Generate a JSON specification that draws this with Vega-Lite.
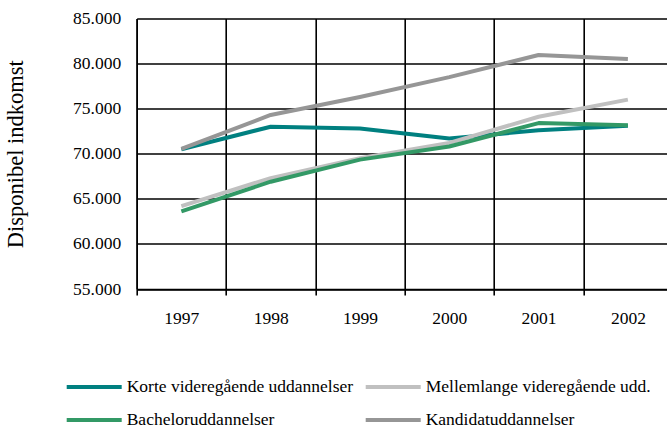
{
  "$schema": "https://vega.github.io/schema/vega-lite/v6.json",
  "autosize": {"type": "none"},
  "padding": {"left": 136.7, "top": 18.5, "right": 0, "bottom": 139},
  "width": 530.3,
  "height": 270.5,
  "background": "white",
  "config": {
    "font": "Liberation Serif",
    "view": {"stroke": null}
  },
  "data": {
    "values": [
      {"year": 1997, "serie": "Korte videregående uddannelser", "value": 70500},
      {"year": 1998, "serie": "Korte videregående uddannelser", "value": 73000},
      {"year": 1999, "serie": "Korte videregående uddannelser", "value": 72800},
      {"year": 2000, "serie": "Korte videregående uddannelser", "value": 71700},
      {"year": 2001, "serie": "Korte videregående uddannelser", "value": 72600},
      {"year": 2002, "serie": "Korte videregående uddannelser", "value": 73100},
      {"year": 1997, "serie": "Mellemlange videregående udd.", "value": 64200},
      {"year": 1998, "serie": "Mellemlange videregående udd.", "value": 67300},
      {"year": 1999, "serie": "Mellemlange videregående udd.", "value": 69500},
      {"year": 2000, "serie": "Mellemlange videregående udd.", "value": 71200},
      {"year": 2001, "serie": "Mellemlange videregående udd.", "value": 74100},
      {"year": 2002, "serie": "Mellemlange videregående udd.", "value": 76000},
      {"year": 1997, "serie": "Bacheloruddannelser", "value": 63600},
      {"year": 1998, "serie": "Bacheloruddannelser", "value": 66900},
      {"year": 1999, "serie": "Bacheloruddannelser", "value": 69350},
      {"year": 2000, "serie": "Bacheloruddannelser", "value": 70800},
      {"year": 2001, "serie": "Bacheloruddannelser", "value": 73400},
      {"year": 2002, "serie": "Bacheloruddannelser", "value": 73150},
      {"year": 1997, "serie": "Kandidatuddannelser", "value": 70550},
      {"year": 1998, "serie": "Kandidatuddannelser", "value": 74300},
      {"year": 1999, "serie": "Kandidatuddannelser", "value": 76300},
      {"year": 2000, "serie": "Kandidatuddannelser", "value": 78500},
      {"year": 2001, "serie": "Kandidatuddannelser", "value": 80950},
      {"year": 2002, "serie": "Kandidatuddannelser", "value": 80500}
    ]
  },
  "mark": {"type": "line", "strokeWidth": 4, "strokeCap": "butt", "strokeJoin": "round"},
  "encoding": {
    "x": {
      "field": "year",
      "type": "quantitative",
      "scale": {"domain": [1996.5, 2002.438], "nice": false, "zero": false},
      "axis": {
        "title": null,
        "values": [1996.5, 1997, 1997.5, 1998, 1998.5, 1999, 1999.5, 2000, 2000.5, 2001, 2001.5, 2002],
        "labelExpr": "datum.value % 1 === 0 ? format(datum.value, 'd') : ''",
        "labelOverlap": false,
        "labelFlush": false,
        "labelFontSize": 17.5,
        "labelColor": "black",
        "labelPadding": 14,
        "domainColor": "black",
        "domainWidth": 1.6,
        "grid": true,
        "gridColor": "black",
        "gridWidth": 1.6,
        "gridOpacity": {"condition": {"test": "datum.value % 1 === 0", "value": 0}, "value": 1},
        "ticks": true,
        "tickSize": 6,
        "tickColor": "black",
        "tickWidth": 1.6,
        "tickOpacity": {"condition": {"test": "datum.value % 1 === 0", "value": 0}, "value": 1}
      }
    },
    "y": {
      "field": "value",
      "type": "quantitative",
      "scale": {"domain": [55000, 85000], "nice": false, "zero": false},
      "axis": {
        "title": "Disponibel indkomst",
        "titleFontSize": 22.5,
        "titleFontWeight": "normal",
        "titleColor": "black",
        "titlePadding": 45,
        "values": [55000, 60000, 65000, 70000, 75000, 80000, 85000],
        "labelExpr": "replace(format(datum.value, ','), ',', '.')",
        "labelFontSize": 17.5,
        "labelColor": "black",
        "labelPadding": 16,
        "ticks": false,
        "tickSize": 0,
        "domainColor": "black",
        "domainWidth": 1.6,
        "grid": true,
        "gridColor": "black",
        "gridWidth": 1.6
      }
    },
    "color": {
      "field": "serie",
      "type": "nominal",
      "sort": null,
      "scale": {
        "domain": ["Korte videregående uddannelser", "Mellemlange videregående udd.", "Bacheloruddannelser", "Kandidatuddannelser"],
        "range": ["#008080", "#c0c0c0", "#339966", "#969696"]
      },
      "legend": {
        "title": null,
        "orient": "none",
        "legendX": -72,
        "legendY": 358.5,
        "direction": "horizontal",
        "columns": 2,
        "columnPadding": 10,
        "rowPadding": 13,
        "clipHeight": 20,
        "symbolType": "stroke",
        "symbolSize": 3025,
        "symbolStrokeWidth": 4,
        "labelFontSize": 17.5,
        "labelColor": "black",
        "labelOffset": 3,
        "labelLimit": 400
      }
    }
  }
}
